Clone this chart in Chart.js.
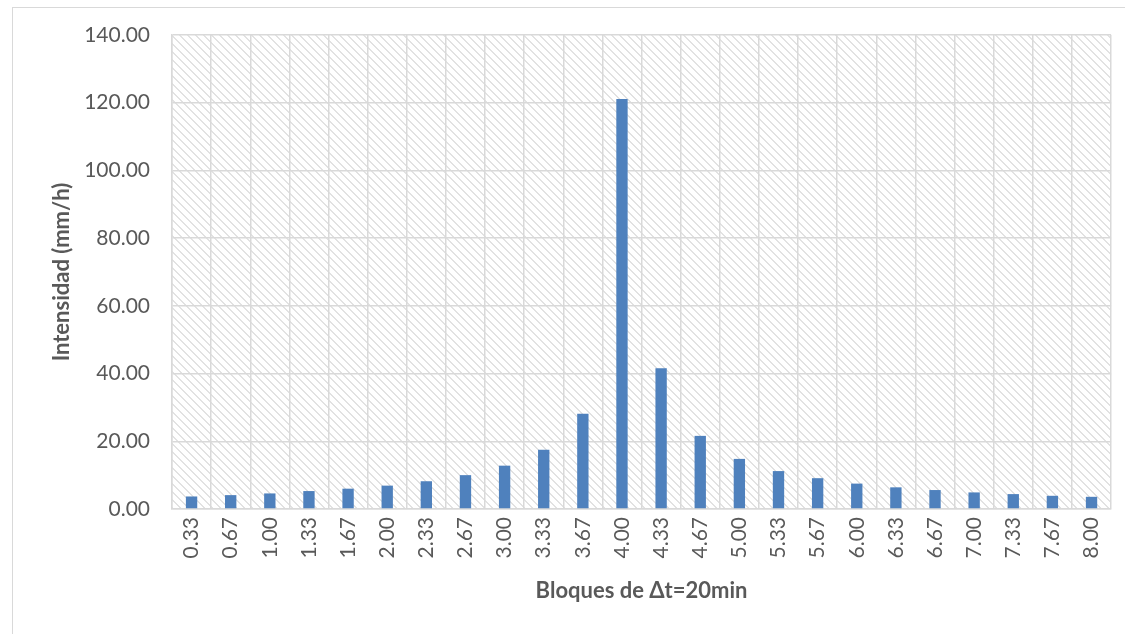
<!DOCTYPE html>
<html>
<head>
<meta charset="utf-8">
<script src="https://cdn.jsdelivr.net/npm/chart.js@4.4.1/dist/chart.umd.min.js"></script>
<style>
  html, body { margin: 0; padding: 0; background: #ffffff; }
  #wrap { width: 1125px; height: 634px; position: relative; }
</style>
</head>
<body>
<div id="wrap"><canvas id="c" width="1125" height="634"></canvas></div>
<script>
// Block times (hours) for 20-minute rainfall blocks
const blockLabels = ['0.33','0.67','1.00','1.33','1.67','2.00','2.33','2.67','3.00','3.33','3.67','4.00',
                     '4.33','4.67','5.00','5.33','5.67','6.00','6.33','6.67','7.00','7.33','7.67','8.00'];
// Intensity per block (mm/h), alternating-block arrangement
const intensity = [3.7, 4.1, 4.6, 5.3, 6.0, 6.9, 8.2, 10.0, 12.8, 17.5, 28.1, 121.1,
                   41.6, 21.6, 14.8, 11.2, 9.1, 7.5, 6.4, 5.6, 4.9, 4.4, 3.9, 3.6];
// Value-axis range and step
const yMin = 0, yMax = 140, yStep = 20;

const gridColor = '#d9d9d9';
const textColor = '#595959';

// Diagonal hatch used as the plot-area fill
function makeHatch() {
  const t = document.createElement('canvas');
  t.width = 8; t.height = 8;
  const g = t.getContext('2d');
  g.fillStyle = '#ffffff';
  g.fillRect(0, 0, 8, 8);
  g.fillStyle = '#e2e2e2';
  for (let i = 0; i < 8; i++) {
    g.fillRect(i, i, 1, 1);
    g.fillRect((i + 1) % 8, i, 1, 1);
  }
  return t;
}

const framePlugin = {
  id: 'frame',
  beforeDraw(chart) {
    const ctx = chart.ctx;
    ctx.save();
    ctx.fillStyle = '#ffffff';
    ctx.fillRect(0, 0, chart.width, chart.height);
    // outer chart border
    ctx.strokeStyle = '#d9d9d9';
    ctx.lineWidth = 1;
    ctx.strokeRect(12.5, 7.5, chart.width + 10, chart.height + 10);
    // hatched plot area
    const a = chart.chartArea;
    ctx.fillStyle = ctx.createPattern(makeHatch(), 'repeat');
    ctx.fillRect(a.left, a.top, a.right - a.left, a.bottom - a.top);
    ctx.restore();
  }
};

new Chart(document.getElementById('c'), {
  type: 'bar',
  data: {
    labels: blockLabels,
    datasets: [{
      data: intensity,
      backgroundColor: '#4f81bd',
      borderWidth: 0,
      barPercentage: 0.29,
      categoryPercentage: 1.0
    }]
  },
  options: {
    responsive: false,
    animation: false,
    devicePixelRatio: 1,
    layout: { padding: { left: 48, top: 35, right: 13, bottom: 0 } },
    plugins: { legend: { display: false }, tooltip: { enabled: false } },
    scales: {
      x: {
        grid: { color: gridColor, lineWidth: 1.5, offset: true, drawTicks: false },
        border: { color: gridColor, width: 1.5 },
        ticks: {
          color: textColor, font: { family: 'Lato', size: 21 },
          minRotation: 90, maxRotation: 90, padding: 8, autoSkip: false
        },
        title: {
          display: true, text: 'Bloques de \u0394t=20min', color: textColor,
          font: { family: 'Lato', size: 22, weight: 'bold' },
          padding: { top: 0, bottom: 30 }
        },
        afterFit(scale) { scale.height = 125; }
      },
      y: {
        min: yMin, max: yMax,
        grid: { color: gridColor, lineWidth: 1.5, drawTicks: false },
        border: { color: gridColor, width: 1.5 },
        ticks: {
          stepSize: yStep, color: textColor, font: { family: 'Lato', size: 21 }, padding: 22,
          callback: v => Number(v).toFixed(2)
        },
        title: {
          display: true, text: 'Intensidad (mm/h)', color: textColor,
          font: { family: 'Lato', size: 22, weight: 'bold' },
          padding: { top: 1, bottom: 0 }
        },
        afterFit(scale) { scale.width = 124; }
      }
    }
  },
  plugins: [framePlugin]
});
</script>
</body>
</html>
